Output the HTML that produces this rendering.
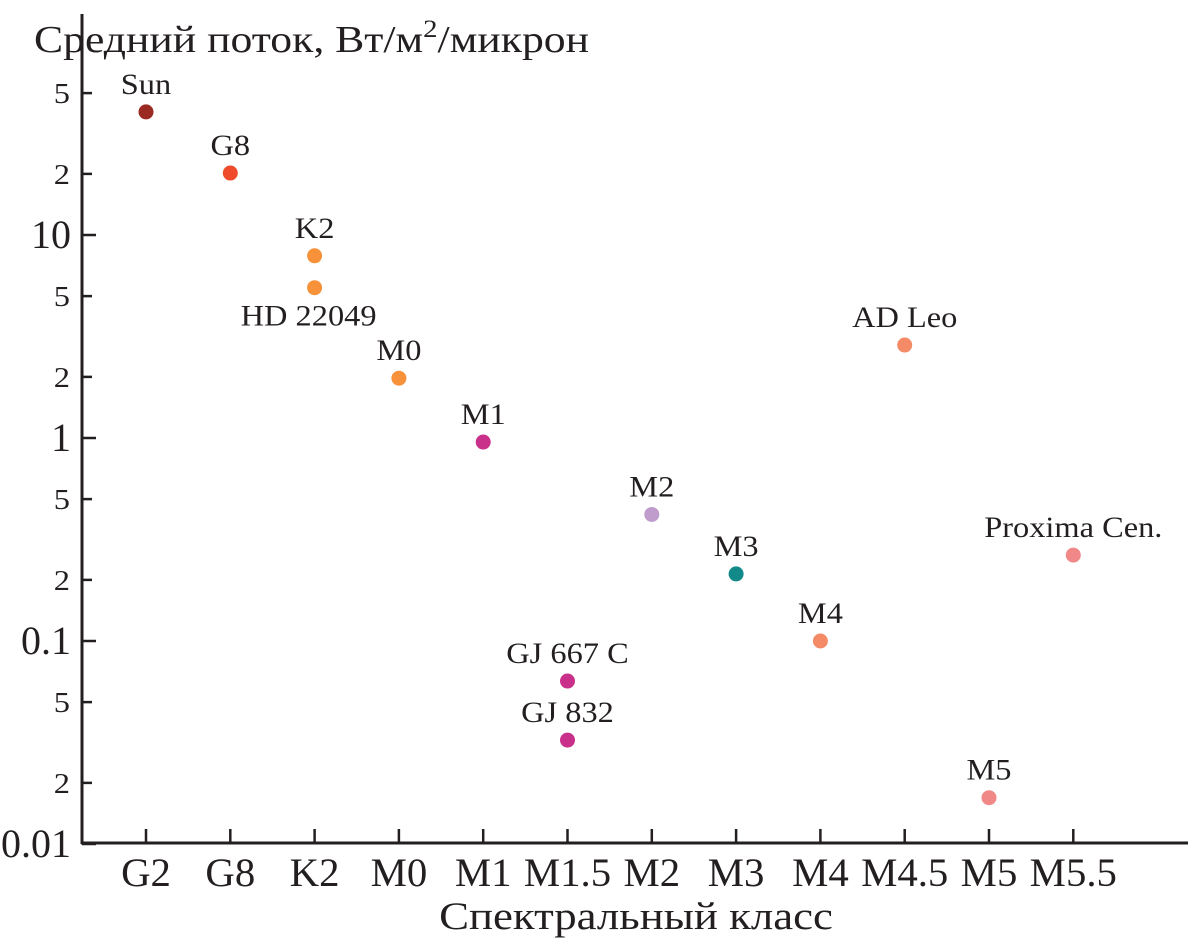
<!DOCTYPE html>
<html><head><meta charset="utf-8"><style>
body{margin:0;background:#fff}
svg{display:block;font-family:"Liberation Serif",serif;fill:#231f20}
</style></head><body>
<svg id="c" width="1190" height="942">
<text transform="translate(34,52) scale(1.15,1)" font-size="38">Средний поток, Вт/м<tspan dy="-15" font-size="25">2</tspan><tspan dy="15">/микрон</tspan></text>
<text transform="translate(636,929) scale(1.15,1)" font-size="39" text-anchor="middle">Спектральный класс</text>
<line x1="82" y1="14" x2="82" y2="844" stroke="#231f20" stroke-width="3"/>
<line x1="81" y1="843" x2="1188" y2="843" stroke="#231f20" stroke-width="3"/>
<g id="g"></g>
</svg>
<script>
const categories=["G2","G8","K2","M0","M1","M1.5","M2","M3","M4","M4.5","M5","M5.5"];
const pointNames=["Sun","G8","K2","HD 22049","M0","M1","M2","M3","M4","AD Leo","Proxima Cen.","M5","GJ 667 C","GJ 832"];
const pointCats=["G2","G8","K2","K2","M0","M1","M2","M3","M4","M4.5","M5.5","M5","M1.5","M1.5"];
const pointValues=[40.4,20.2,7.9,5.5,1.97,0.955,0.42,0.214,0.1,2.87,0.265,0.0169,0.0635,0.0325];
const pointColors=["#9b2a23","#f04a2c","#f7923a","#f7923a","#f7923a","#c9308a","#bf9ccc","#138a8a","#f58a66","#f58a66","#f08888","#f08888","#c9308a","#c9308a"];
const majorTicks=[10,1,0.1,0.01];
const majorLabels=["10","1","0.1","0.01"];
const minorTicks=[50,20,5,2,0.5,0.2,0.05,0.02];
const minorLabels=["5","2","5","2","5","2","5","2"];
const X=c=>146+categories.indexOf(c)*84.3;
const Y=v=>438-203*Math.log10(v);
const g=document.getElementById('g');
const NS="http://www.w3.org/2000/svg";
function mk(t,a){const e=document.createElementNS(NS,t);for(const k in a)e.setAttribute(k,a[k]);g.appendChild(e);return e;}
function txt(x,y,sx,size,anchor,s){const t=mk('text',{transform:`translate(${x},${y}) scale(${sx},1)`,"font-size":size,"text-anchor":anchor});t.textContent=s;return t;}
categories.forEach(c=>{
 const l=mk('line',{x1:X(c),x2:X(c),y1:829,y2:843,stroke:"#231f20","stroke-width":2.5});
 
 
 const t=txt(X(c),886,1.02,40,"middle",c);
 
 
});
majorTicks.forEach((v,i)=>{
 const l=mk('line',{x1:82,x2:96,y1:Y(v),y2:Y(v),stroke:"#231f20","stroke-width":2.5});
 
 
 const t=txt(71,Y(v)+13,1.0,40,"end",majorLabels[i]);
 
 
});
minorTicks.forEach((v,i)=>{
 const l=mk('line',{x1:82,x2:92,y1:Y(v),y2:Y(v),stroke:"#231f20","stroke-width":2.5});
 
 
 const t=txt(70,Y(v)+10,1.12,29,"end",minorLabels[i]);
 
 
});
pointNames.forEach((n,i)=>{
 const cx=X(pointCats[i]),cy=Y(pointValues[i]);
 const p=mk('circle',{cx:cx,cy:cy,r:7.5,fill:pointColors[i]});
 
 
 const below=n==="HD 22049";
 const t=txt(cx+(below?-6:0),below?cy+38:cy-18,1.08,30,"middle",n);
 
 
});
</script>
</body></html>
